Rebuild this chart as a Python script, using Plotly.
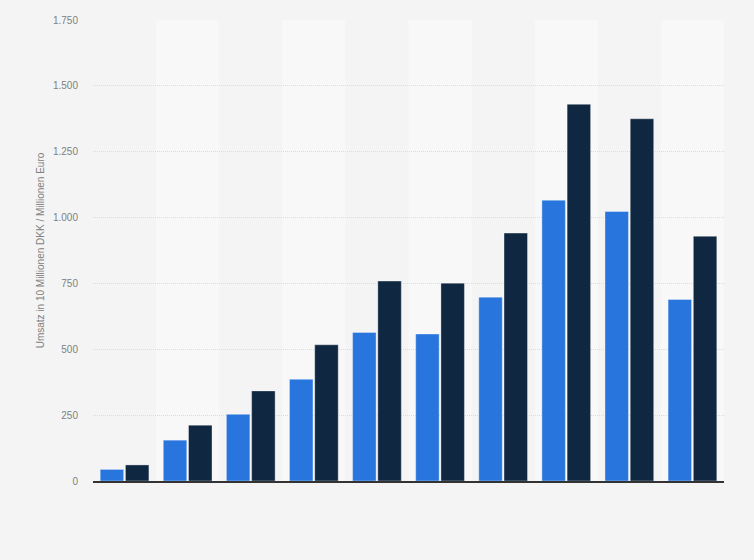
import plotly.graph_objects as go

# group positions (no labels shown in the reference)
groups = ["1", "2", "3", "4", "5", "6", "7", "8", "9", "10"]

# values
umsatz_dkk = [44, 155, 253, 386, 564, 558, 698, 1066, 1023, 689]   # in 10 Millionen DKK
umsatz_eur = [61, 212, 342, 517, 759, 751, 941, 1430, 1375, 929]   # in Millionen Euro

y_ticks = [0, 250, 500, 750, 1000, 1250, 1500, 1750]

fig = go.Figure()

fig.add_trace(go.Bar(
    x=groups, y=umsatz_dkk, name="Umsatz in 10 Millionen DKK",
    marker=dict(color="#2876dd", line=dict(color="rgba(255,255,255,0.35)", width=1)),
))
fig.add_trace(go.Bar(
    x=groups, y=umsatz_eur, name="Umsatz in Millionen Euro",
    marker=dict(color="#0f2740", line=dict(color="rgba(255,255,255,0.35)", width=1)),
))

# alternating light column bands behind every second group
shapes = []
for i in range(1, len(groups), 2):
    shapes.append(dict(
        type="rect", xref="x", yref="paper",
        x0=i - 0.5, x1=i + 0.5, y0=0, y1=1,
        fillcolor="#f8f8f8", line=dict(width=0), layer="below",
    ))

fig.update_layout(
    width=754, height=560,
    margin=dict(l=93, r=30, t=20, b=79),
    paper_bgcolor="#f4f4f4",
    plot_bgcolor="#f4f4f4",
    barmode="group",
    bargap=0.2,
    bargroupgap=0.07,
    showlegend=False,
    separators=",.",
    shapes=shapes,
    font=dict(family="Liberation Sans, Arial, sans-serif", size=10, color="#808080"),
)

fig.update_xaxes(
    showticklabels=False, showgrid=False,
    showline=True, linecolor="#333333", linewidth=1.5,
    range=[-0.5, len(groups) - 0.5],
)
fig.update_yaxes(
    range=[0, 1750], tickvals=y_ticks, tickformat=",d",
    showgrid=True, gridcolor="#dcdcdc", griddash="1px,1px", gridwidth=1,
    zeroline=False, showline=False,
    ticks="", ticklabelstandoff=14,
    tickfont=dict(size=10, color="#808080"),
    title=dict(text="Umsatz in 10 Millionen DKK / Millionen Euro",
               font=dict(size=10, color="#808080"), standoff=6),
)

# drop the default page margin so the chart fills the window like the reference
fig.write_html(
    "out.html",
    config={"displayModeBar": False},
    post_script="document.body.style.margin='0';document.body.style.background='#f4f4f4';",
)
